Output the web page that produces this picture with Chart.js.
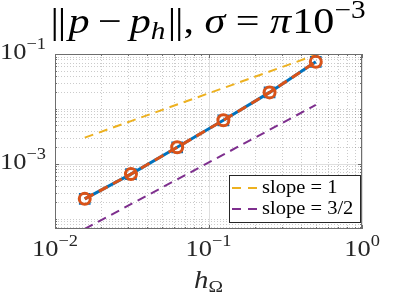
<!DOCTYPE html>
<html>
<head>
<meta charset="utf-8">
<script src="https://cdn.jsdelivr.net/npm/chart.js@4.4.0/dist/chart.umd.min.js"></script>
<style>
  body { margin: 0; background: #fff; }
  canvas { display: block; }
</style>
</head>
<body>
<canvas id="graph" width="399" height="299"></canvas>
<script>
// Mesh sizes and errors
var h = [0.015625, 0.03125, 0.0625, 0.125, 0.25, 0.5];
var err = [2.3e-4, 6.5e-4, 2.0e-3, 6.2e-3, 2.0e-2, 7.2e-2];
// Reference slopes
var slope1 = [3.0e-3, 6.0e-3, 1.2e-2, 2.4e-2, 4.8e-2, 9.6e-2];
var slope32 = [6.5e-5, 1.84e-4, 5.2e-4, 1.47e-3, 4.16e-3, 1.18e-2];
var legendLabels = ['slope = 1', 'slope = 3/2'];
// Tick labels (exponents of 10)
var xTickExp = [-2, -1, 0];
var yTickExp = [-1, -3];

var SERIF = '"Liberation Serif", "DejaVu Serif", serif';

function pts(ys) {
    return ys.map(function (y, i) { return { x: h[i], y: y }; });
}

// Draw text made of pieces with own font and vertical shift, stretched by sx
function richText(ctx, parts, x, y, align, sx) {
    sx = sx || 1;
    var w = 0;
    parts.forEach(function (p) {
        ctx.font = p.font;
        p.w = ctx.measureText(p.t).width;
        w += p.w + (p.gap || 0);
    });
    var cx = x;
    if (align === 'center') cx = x - w * sx / 2;
    if (align === 'right') cx = x - w * sx;
    ctx.save();
    ctx.translate(cx, y);
    ctx.scale(sx, 1);
    ctx.textAlign = 'left';
    ctx.textBaseline = 'alphabetic';
    var px = 0;
    parts.forEach(function (p) {
        ctx.font = p.font;
        ctx.fillText(p.t, px, p.dy || 0);
        px += p.w + (p.gap || 0);
    });
    ctx.restore();
}

function powLabel(exp, size) {
    return [
        { t: '10', font: size + 'px ' + SERIF },
        { t: exp === 0 ? '0' : '\u2212' + Math.abs(exp), font: Math.round(size * 0.7) + 'px ' + SERIF, dy: -size * 0.42 }
    ];
}

var decorPlugin = {
    id: 'decor',
    beforeDatasetsDraw: function (chart) {
        var ctx = chart.ctx, a = chart.chartArea;
        var xs = chart.scales.x, ys = chart.scales.y;
        ctx.save();
        ctx.lineWidth = 1;
        // vertical grid
        for (var k = -2; k <= 0; k++) {
            for (var m = 1; m <= 9; m++) {
                var v = m * Math.pow(10, k);
                if (v > 1.0001) break;
                var px = Math.round(xs.getPixelForValue(v)) + 0.5;
                var major = m === 1;
                ctx.setLineDash(major ? [] : [1, 2]);
                ctx.strokeStyle = major ? 'rgba(38,38,38,0.15)' : 'rgba(38,38,38,0.24)';
                ctx.beginPath();
                ctx.moveTo(px, a.top);
                ctx.lineTo(px, a.bottom);
                ctx.stroke();
            }
        }
        // horizontal grid
        for (var k2 = -5; k2 <= -1; k2++) {
            for (var m2 = 1; m2 <= 9; m2++) {
                var v2 = m2 * Math.pow(10, k2);
                if (v2 < ys.min || v2 > ys.max * 1.0001) continue;
                var py = Math.round(ys.getPixelForValue(v2)) + 0.5;
                var major2 = m2 === 1 && yTickExp.indexOf(k2) >= 0;
                ctx.setLineDash(major2 ? [] : [1, 2]);
                ctx.strokeStyle = major2 ? 'rgba(38,38,38,0.15)' : 'rgba(38,38,38,0.24)';
                ctx.beginPath();
                ctx.moveTo(a.left, py);
                ctx.lineTo(a.right, py);
                ctx.stroke();
            }
        }
        ctx.restore();
    },
    afterDatasetsDraw: function (chart) {
        var ctx = chart.ctx, a = chart.chartArea;
        var xs = chart.scales.x, ys = chart.scales.y;
        ctx.save();
        ctx.setLineDash([]);
        ctx.strokeStyle = '#6e6e6e';
        ctx.lineWidth = 1;
        // box
        ctx.strokeRect(a.left + 0.5, a.top + 0.5, a.right - a.left - 1, a.bottom - a.top - 1);
        // tick marks
        ctx.beginPath();
        for (var k = -2; k <= 0; k++) {
            for (var m = 1; m <= 9; m++) {
                var v = m * Math.pow(10, k);
                if (v > 1.0001) break;
                var px = Math.round(xs.getPixelForValue(v)) + 0.5;
                var len = m === 1 ? 4 : 2;
                ctx.moveTo(px, a.bottom); ctx.lineTo(px, a.bottom - len);
                ctx.moveTo(px, a.top); ctx.lineTo(px, a.top + len);
            }
        }
        for (var k2 = -5; k2 <= -1; k2++) {
            for (var m2 = 1; m2 <= 9; m2++) {
                var v2 = m2 * Math.pow(10, k2);
                if (v2 < ys.min || v2 > ys.max * 1.0001) continue;
                var py = Math.round(ys.getPixelForValue(v2)) + 0.5;
                var len2 = (m2 === 1 && yTickExp.indexOf(k2) >= 0) ? 4 : 2;
                ctx.moveTo(a.left, py); ctx.lineTo(a.left + len2, py);
                ctx.moveTo(a.right, py); ctx.lineTo(a.right - len2, py);
            }
        }
        ctx.stroke();

        // tick labels
        ctx.fillStyle = '#262626';
        xTickExp.forEach(function (e) {
            richText(ctx, powLabel(e, 23), xs.getPixelForValue(Math.pow(10, e)), a.bottom + 27, 'center', 1.15);
        });
        yTickExp.forEach(function (e) {
            richText(ctx, powLabel(e, 23), a.left - 9, ys.getPixelForValue(Math.pow(10, e)) + 5, 'right', 1.15);
        });

        // x label h_Omega
        richText(ctx, [
            { t: 'h', font: 'italic 25px ' + SERIF },
            { t: '\u03A9', font: '17px ' + SERIF, dy: 4 }
        ], (a.left + a.right) / 2, 288, 'center', 1.15);

        // title
        var F = 36;
        var up = F + 'px ' + SERIF, it = 'italic ' + F + 'px ' + SERIF;
        var sm = Math.round(F * 0.7);
        ctx.fillStyle = '#000';
        richText(ctx, [
            { t: '|', font: up, gap: -1 },
            { t: '|', font: up, gap: 2 },
            { t: 'p', font: it, gap: 7 },
            { t: '\u2212', font: up, gap: 7 },
            { t: 'p', font: it },
            { t: 'h', font: 'italic ' + sm + 'px ' + SERIF, dy: 6, gap: 2 },
            { t: '|', font: up, gap: -1 },
            { t: '|', font: up },
            { t: ',', font: up, gap: 9 },
            { t: '\u03C3', font: it, gap: 9 },
            { t: '=', font: up, gap: 9 },
            { t: '\u03C0', font: it, gap: 1 },
            { t: '10', font: up },
            { t: '\u22123', font: sm + 'px ' + SERIF, dy: -15 }
        ], 208, 33, 'center', 1.17);

        // legend
        var lx = 229, ly = 175, lw = 131, lh = 47;
        ctx.fillStyle = '#fff';
        ctx.fillRect(lx, ly, lw, lh);
        ctx.strokeStyle = '#262626';
        ctx.lineWidth = 1;
        ctx.strokeRect(lx + 0.5, ly + 0.5, lw, lh);
        var rows = [chart.data.datasets[2], chart.data.datasets[3]];
        rows.forEach(function (ds, i) {
            var ry = ly + 13 + i * 21;
            ctx.strokeStyle = ds.borderColor;
            ctx.lineWidth = 2;
            ctx.setLineDash([9, 7]);
            ctx.beginPath();
            ctx.moveTo(lx + 3, ry);
            ctx.lineTo(lx + 30, ry);
            ctx.stroke();
            ctx.setLineDash([]);
            ctx.fillStyle = '#000';
            richText(ctx, [{ t: ds.label, font: '18px ' + SERIF }], lx + 33, ry + 5, 'left', 1.14);
        });
        ctx.restore();
    }
};

new Chart(document.getElementById('graph'), {
    type: 'line',
    data: {
        datasets: [
            {
                label: 'err_o',
                data: pts(err),
                order: 0,
                borderColor: '#D95319',
                borderWidth: 3,
                borderDash: [10, 6],
                pointStyle: 'circle',
                pointRadius: 5.5,
                pointBorderWidth: 3,
                pointBorderColor: '#D95319',
                pointBackgroundColor: 'rgba(0,0,0,0)'
            },
            {
                label: 'err_b',
                data: pts(err),
                order: 1,
                borderColor: '#0072BD',
                borderWidth: 3,
                pointStyle: 'rect',
                pointRadius: 7.2,
                pointBorderWidth: 1.5,
                pointBorderColor: '#0072BD',
                pointBackgroundColor: 'rgba(0,0,0,0)'
            },
            {
                label: legendLabels[0],
                data: pts(slope1),
                order: 2,
                borderColor: '#EDB120',
                borderWidth: 2,
                borderDash: [9, 6],
                pointRadius: 0
            },
            {
                label: legendLabels[1],
                data: pts(slope32),
                order: 3,
                borderColor: '#7E2F8E',
                borderWidth: 2,
                borderDash: [9, 6],
                pointRadius: 0
            }
        ]
    },
    options: {
        responsive: false,
        animation: false,
        layout: { padding: { left: 55, top: 54, right: 37, bottom: 70 } },
        plugins: { legend: { display: false }, tooltip: { enabled: false } },
        scales: {
            x: { type: 'logarithmic', min: 0.01, max: 1, display: false },
            y: { type: 'logarithmic', min: 6.5e-5, max: 0.1, display: false }
        }
    },
    plugins: [decorPlugin]
});
</script>
</body>
</html>
